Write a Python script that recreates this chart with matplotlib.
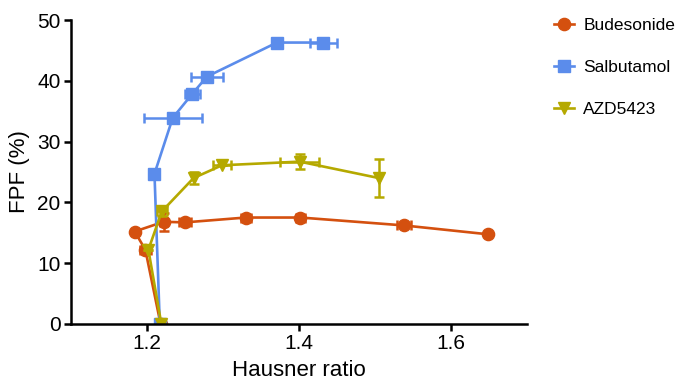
import numpy as np
import matplotlib
matplotlib.use("Agg")
import matplotlib.pyplot as plt

plt.rcParams['font.family'] = ['Liberation Sans', 'DejaVu Sans']

# Budesonide
bud_x = [1.218, 1.198, 1.184, 1.222, 1.250, 1.330, 1.402, 1.538, 1.648]
bud_y = [0.0, 12.2, 15.2, 16.8, 16.7, 17.5, 17.5, 16.2, 14.75]
bud_xerr = [0, 0.007, 0, 0.005, 0.008, 0.0066, 0.006, 0.009, 0]
bud_yerr = [0, 0, 0, 1.5, 0, 0, 0, 0, 0]

# Salbutamol
sal_x = [1.217, 1.210, 1.234, 1.260, 1.279, 1.371, 1.432]
sal_y = [0.0, 24.7, 33.9, 37.9, 40.7, 46.3, 46.3]
sal_xerr = [0, 0, 0.038, 0.010, 0.021, 0, 0.0176]
sal_yerr = [0, 0, 0, 0, 0, 0, 0]

# AZD5423
azd_x = [1.219, 1.202, 1.2196, 1.2614, 1.2988, 1.401, 1.505]
azd_y = [0.0, 12.2, 18.5, 24.0, 26.1, 26.7, 24.0]
azd_xerr = [0, 0, 0.0066, 0, 0.0115, 0.026, 0]
azd_yerr = [0, 0, 0.7, 1.0, 0, 1.2, 3.2]

c_bud = '#D4500F'
c_sal = '#5B8CEB'
c_azd = '#B5A900'

fig = plt.figure(figsize=(6.81, 3.86), dpi=100)
ax = fig.add_axes([0.104, 0.161, 0.670, 0.787])

series = [
    (bud_x, bud_y, bud_xerr, bud_yerr, c_bud, 'o', 'Budesonide'),
    (sal_x, sal_y, sal_xerr, sal_yerr, c_sal, 's', 'Salbutamol'),
    (azd_x, azd_y, azd_xerr, azd_yerr, c_azd, 'v', 'AZD5423'),
]
handles = []
for x, y, xe, ye, c, m, lab in series:
    ax.errorbar(x, y, xerr=xe, yerr=ye, fmt='none', ecolor=c,
                elinewidth=1.8, capsize=3.5, capthick=1.8)
    h, = ax.plot(x, y, color=c, marker=m, markersize=8.8, linewidth=1.9,
                 label=lab)
    handles.append(h)

ax.set_xlim(1.1, 1.7)
ax.set_ylim(0, 50)
ax.set_xticks([1.2, 1.4, 1.6])
ax.set_yticks(np.arange(0, 51, 10))
for s in ['top', 'right']:
    ax.spines[s].set_visible(False)
for s in ['left', 'bottom']:
    ax.spines[s].set_linewidth(1.8)
ax.tick_params(width=1.8, length=5, labelsize=15, direction='out', pad=2.5)
ax.set_xlabel('Hausner ratio', fontsize=16, labelpad=5)
ax.set_ylabel('FPF (%)', fontsize=16, labelpad=5)

leg = fig.legend(handles=handles, loc='upper left',
                 bbox_to_anchor=(0.79, 0.995), frameon=False,
                 fontsize=12.5, handlelength=1.15, labelspacing=1.55,
                 handletextpad=0.55)

fig.savefig('out.png', dpi=100)
